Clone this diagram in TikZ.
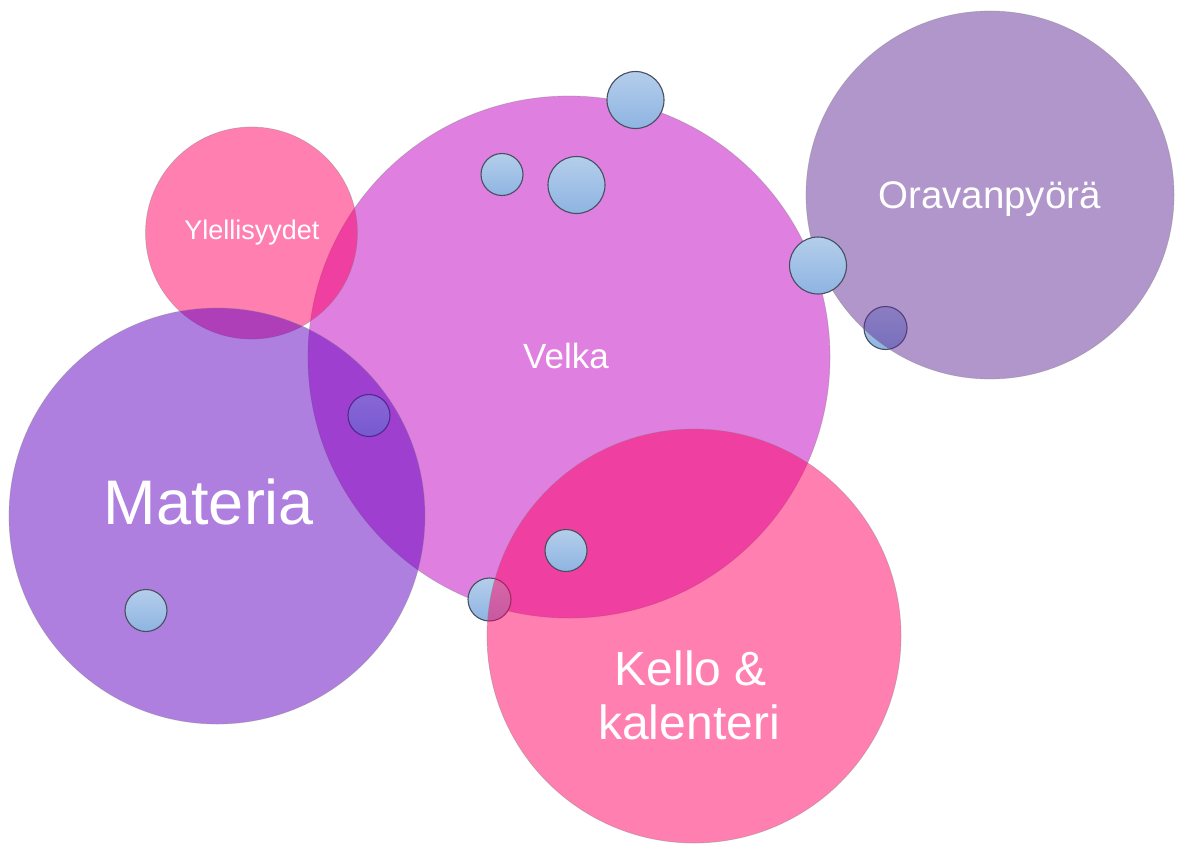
\documentclass[tikz,border=0pt]{standalone}
\usepackage{fontspec}
\setmainfont{Liberation Sans}
\definecolor{velkac}{RGB}{192,0,192}
\definecolor{pinkc}{RGB}{255,0,100}
\definecolor{materiac}{RGB}{96,0,192}
\definecolor{oravac}{RGB}{99,45,153}
\definecolor{bluetop}{RGB}{180,206,235}
\definecolor{bluebot}{RGB}{142,180,226}
\definecolor{blueedge}{RGB}{70,78,95}
\tikzset{
  big/.style={circle, inner sep=0pt, outer sep=0pt, fill=#1, fill opacity=0.5,
    draw=black!50, draw opacity=0.4, line width=0.7pt},
  bubble/.style={circle, inner sep=0pt, outer sep=0pt, top color=bluetop, bottom color=bluebot,
    draw=blueedge, line width=1.1pt},
  lbl/.style={anchor=base, text=white, inner sep=0pt, align=center}
}
\begin{document}
\begin{tikzpicture}[x=1pt,y=-1pt]
\useasboundingbox (0,0) rectangle (1182,843);
% big circles and bubbles in stacking order
\node[big=velkac, minimum size=522pt] (velka) at (569,357) {};
\node[bubble, minimum size=42pt] (b1) at (369,415.5) {};
\node[big=pinkc, minimum size=212pt] (ylel) at (251.5,233) {};
\node[big=materiac, minimum size=416pt] (materia) at (217,516) {};
\node[bubble, minimum size=43pt] (b2) at (885.5,328) {};
\node[big=oravac, minimum size=368pt] (orava) at (990,195) {};
\node[bubble, minimum size=43pt] (b3) at (489.5,599.5) {};
\node[big=pinkc, minimum size=414pt] (kello) at (694,636) {};
\node[bubble, minimum size=57pt] (b4) at (635.5,100) {};
\node[bubble, minimum size=42pt] (b5) at (502,174.5) {};
\node[bubble, minimum size=57pt] (b6) at (576.5,185) {};
\node[bubble, minimum size=57pt] (b7) at (818,265.5) {};
\node[bubble, minimum size=42pt] (b8) at (566,550.5) {};
\node[bubble, minimum size=42pt] (b9) at (146,610.5) {};
% labels
\node[lbl, font=\fontsize{35}{42}\selectfont] (tvelka) at (566,368) {Velka};
\node[lbl, font=\fontsize{27}{32}\selectfont] (tylel) at (252,239) {Ylellisyydet};
\node[lbl, font=\fontsize{63}{75}\selectfont] (tmateria) at (209,524) {Materia};
\node[lbl, font=\fontsize{38.5}{46}\selectfont] (torava) at (989.5,208) {Oravanpyörä};
\node[lbl, font=\fontsize{48}{54}\selectfont] (tkello1) at (691,685) {Kello \&};
\node[lbl, font=\fontsize{48}{54}\selectfont] (tkello2) at (689,739) {kalenteri};
\end{tikzpicture}
\end{document}
